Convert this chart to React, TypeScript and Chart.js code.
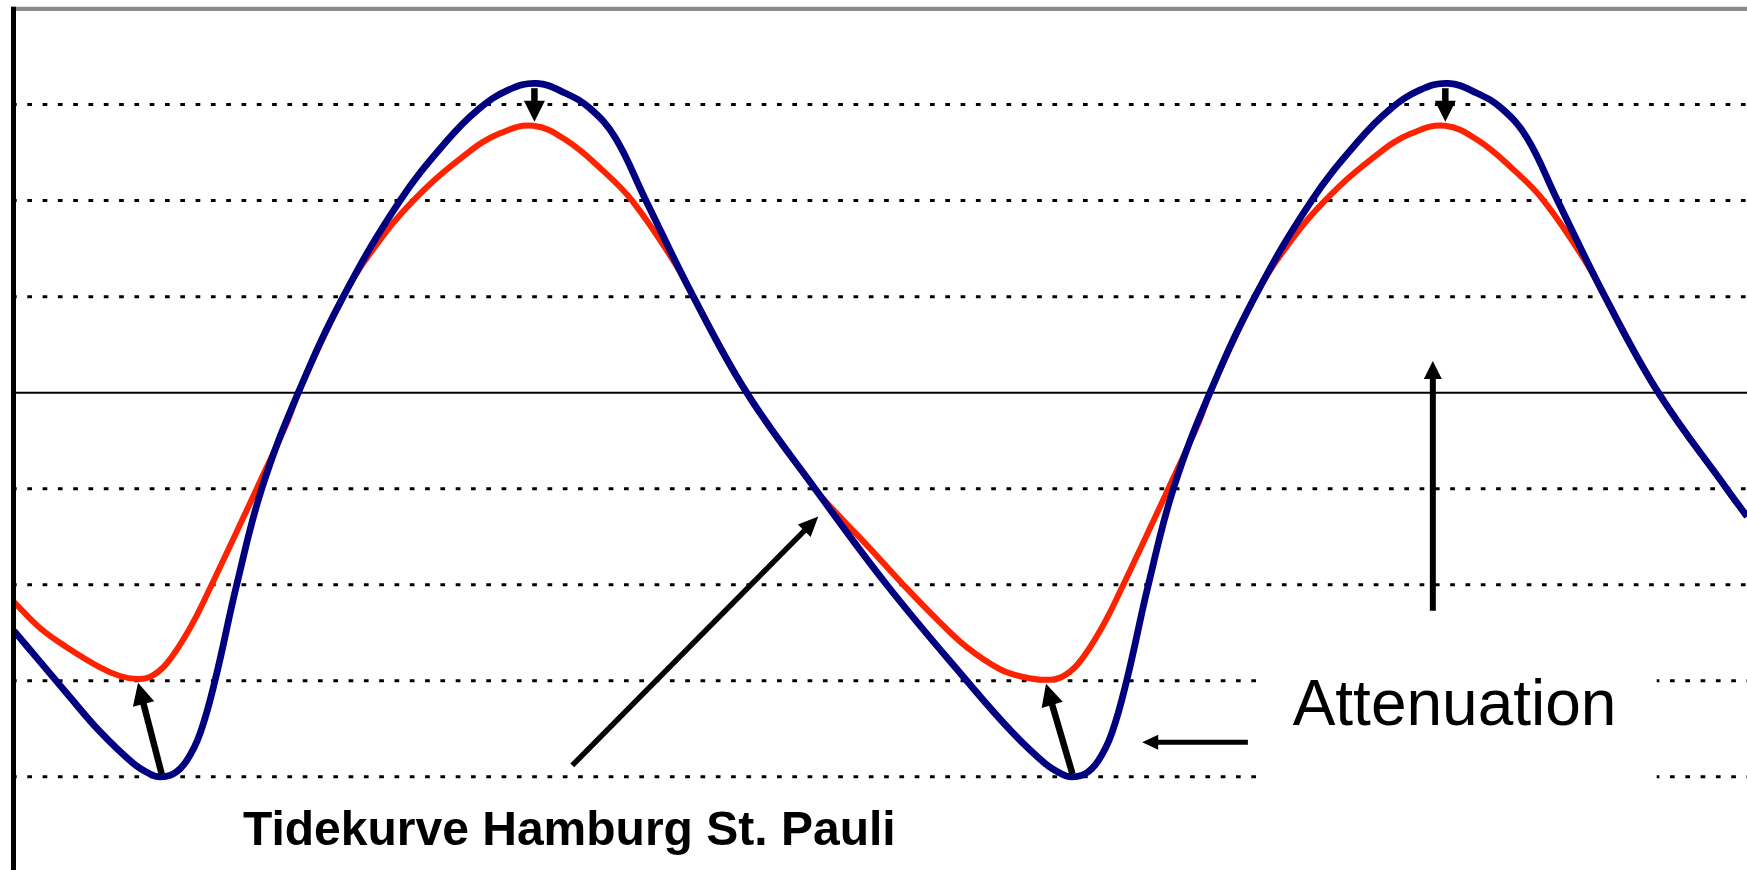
import React, { useEffect, useRef } from 'react';
import { Chart, registerables } from 'chart.js';

Chart.register(...registerables);

// Time axis in hours, water level in grid units (one dotted line per unit)
const hoursBlue = [0, 0.354, 0.718, 1.172, 1.625, 1.853, 1.989, 2.17, 2.353, 2.534, 2.738, 3.034, 3.375, 3.873, 4.486, 5.259, 5.895, 6.326, 6.73, 7.121, 7.507, 7.847, 8.188, 8.597, 9.255, 9.982, 10.913, 11.89, 12.98, 13.592, 14.045, 14.273, 14.409, 14.59, 14.773, 14.954, 15.158, 15.454, 15.795, 16.293, 16.906, 17.679, 18.315, 18.746, 19.15, 19.541, 19.927, 20.267, 20.608, 21.017, 21.675, 22.402, 23.333, 23.61];
const levelBlue = [-2.48, -2.8, -3.13, -3.53, -3.86, -3.97, -4.0, -3.97, -3.83, -3.55, -3.0, -2.0, -1.0, 0, 1.0, 2.0, 2.62, 2.95, 3.15, 3.22, 3.12, 2.96, 2.66, 2.02, 1.0, 0, -1.0, -2.0, -3.0, -3.53, -3.86, -3.97, -4.0, -3.97, -3.83, -3.55, -3.0, -2.0, -1.0, 0, 1.0, 2.0, 2.62, 2.95, 3.15, 3.22, 3.12, 2.96, 2.66, 2.02, 1.0, 0, -1.0, -1.29];

const hoursRed = [0, 0.354, 0.718, 1.172, 1.444, 1.672, 1.853, 2.08, 2.398, 2.693, 3.307, 3.715, 3.873, 4.486, 4.85, 5.44, 6.168, 6.621, 7.075, 7.52, 8.011, 8.42, 8.978, 9.255, 9.982, 10.913, 11.162, 11.635, 12.116, 12.56, 12.98, 13.433, 13.75, 14.06, 14.273, 14.5, 14.818, 15.113, 15.727, 16.135, 16.293, 16.906, 17.27, 17.86, 18.588, 19.041, 19.495, 19.94, 20.431, 20.84, 21.398, 21.675, 22.402, 23.333, 23.61];
const levelRed = [-2.18, -2.45, -2.65, -2.86, -2.95, -2.98, -2.96, -2.82, -2.45, -2.0, -1.0, -0.32, 0, 1.0, 1.45, 2.0, 2.49, 2.7, 2.78, 2.63, 2.32, 2.0, 1.38, 1.0, 0, -1.0, -1.22, -1.6, -2.0, -2.35, -2.65, -2.88, -2.96, -2.99, -2.96, -2.82, -2.45, -2.0, -1.0, -0.32, 0, 1.0, 1.45, 2.0, 2.49, 2.7, 2.78, 2.63, 2.32, 2.0, 1.38, 1.0, 0, -1.0, -1.29];

const gridLevels = [3, 2, 1, -1, -2, -3, -4];
const zeroLevel = 0;
const gappedLevels = [-3, -4];
const gapHours = [17.04, 22.38];

const arrowFromHour = [7.09, 19.5, 2.012, 14.42, 7.606, 19.33, 16.81];
const arrowFromLevel = [3.17, 3.17, -3.97, -3.97, -3.88, -2.27, -3.64];
const arrowToHour = [7.09, 19.5, 1.69, 14.06, 10.958, 19.33, 15.37];
const arrowToLevel = [2.82, 2.82, -3.02, -3.03, -1.29, 0.33, -3.64];

const labelTexts = ['Tidekurve Hamburg St. Pauli', 'Attenuation'];
const labelHour = [3.12, 17.42];
const labelLevel = [-4.71, -3.46];

// styles
const arrowShaft = [6.5, 6.5, 6.5, 6.5, 5.5, 6, 5];
const arrowHeadLen = [21, 21, 22, 22, 20, 18, 16];
const arrowHeadW = [21, 21, 22, 22, 18, 18, 15];
const labelFonts = ['bold 48px "Liberation Sans", Arial, sans-serif', '64px "Liberation Sans", Arial, sans-serif'];

function drawArrow(ctx: CanvasRenderingContext2D, x1: number, y1: number, x2: number, y2: number, sw: number, hl: number, hw: number) {
  const a = Math.atan2(y2 - y1, x2 - x1);
  const c = Math.cos(a), s = Math.sin(a);
  const bx = x2 - hl * c, by = y2 - hl * s;
  ctx.lineWidth = sw;
  ctx.lineCap = 'butt';
  ctx.beginPath();
  ctx.moveTo(x1, y1);
  ctx.lineTo(bx + c, by + s);
  ctx.stroke();
  ctx.beginPath();
  ctx.moveTo(x2, y2);
  ctx.lineTo(bx - (hw / 2) * s, by + (hw / 2) * c);
  ctx.lineTo(bx + (hw / 2) * s, by - (hw / 2) * c);
  ctx.closePath();
  ctx.fill();
}

const decorPlugin = {
  id: 'decor',
  beforeDatasetsDraw(chart: any) {
    const { ctx, chartArea } = chart;
    const xs = chart.scales.x, ys = chart.scales.y;
    ctx.save();
    ctx.strokeStyle = '#000';
    ctx.lineWidth = 3;
    ctx.setLineDash([4.7, 10.6]);
    ctx.lineDashOffset = 2;
    for (const lv of gridLevels) {
      const y = ys.getPixelForValue(lv);
      const segs: number[][] = gappedLevels.includes(lv)
        ? [[chartArea.left, xs.getPixelForValue(gapHours[0])], [xs.getPixelForValue(gapHours[1]), chartArea.right]]
        : [[chartArea.left, chartArea.right]];
      for (const [a, b] of segs) {
        ctx.beginPath();
        ctx.moveTo(a, y);
        ctx.lineTo(b, y);
        ctx.stroke();
      }
    }
    ctx.setLineDash([]);
    ctx.lineWidth = 2;
    const yz = ys.getPixelForValue(zeroLevel);
    ctx.beginPath();
    ctx.moveTo(chartArea.left, yz);
    ctx.lineTo(chartArea.right, yz);
    ctx.stroke();
    ctx.restore();
  },
  afterDatasetsDraw(chart: any) {
    const { ctx, chartArea } = chart;
    const xs = chart.scales.x, ys = chart.scales.y;
    ctx.save();
    ctx.fillStyle = '#000';
    ctx.strokeStyle = '#000';
    for (let i = 0; i < arrowFromHour.length; i++) {
      drawArrow(ctx,
        xs.getPixelForValue(arrowFromHour[i]), ys.getPixelForValue(arrowFromLevel[i]),
        xs.getPixelForValue(arrowToHour[i]), ys.getPixelForValue(arrowToLevel[i]),
        arrowShaft[i], arrowHeadLen[i], arrowHeadW[i]);
    }
    ctx.textBaseline = 'alphabetic';
    ctx.textAlign = 'left';
    for (let i = 0; i < labelTexts.length; i++) {
      ctx.font = labelFonts[i];
      ctx.fillText(labelTexts[i], xs.getPixelForValue(labelHour[i]), ys.getPixelForValue(labelLevel[i]));
    }
    // top frame line
    ctx.strokeStyle = '#8c8c8c';
    ctx.lineWidth = 4.3;
    ctx.beginPath();
    ctx.moveTo(chartArea.left - 3, chartArea.top + 0.3);
    ctx.lineTo(chartArea.right, chartArea.top + 0.3);
    ctx.stroke();
    // left axis
    ctx.strokeStyle = '#000';
    ctx.lineWidth = 5;
    ctx.beginPath();
    ctx.moveTo(chartArea.left - 0.5, chartArea.top - 1.8);
    ctx.lineTo(chartArea.left - 0.5, chartArea.bottom + 2);
    ctx.stroke();
    ctx.restore();
  },
};

export default function App() {
  const ref = useRef<HTMLCanvasElement | null>(null);
  useEffect(() => {
    document.body.style.margin = '0';
    if (!ref.current) return;
    const chart = new Chart(ref.current, {
      type: 'line',
      data: {
        datasets: [
          {
            label: 'Hamburg St. Pauli',
            data: hoursBlue.map((h, i) => ({ x: h, y: levelBlue[i] })),
            borderColor: '#000080',
            borderWidth: 6.8,
            pointRadius: 0,
            tension: 0.4,
            borderJoinStyle: 'round',
            fill: false,
          },
          {
            label: 'Attenuated',
            data: hoursRed.map((h, i) => ({ x: h, y: levelRed[i] })),
            borderColor: '#ff2200',
            borderWidth: 6,
            pointRadius: 0,
            tension: 0.4,
            borderJoinStyle: 'round',
            fill: false,
          },
        ],
      },
      options: {
        responsive: false,
        animation: false,
        devicePixelRatio: 1,
        layout: { padding: { left: 14, top: 8.5, right: 0, bottom: 0 } },
        plugins: { legend: { display: false }, tooltip: { enabled: false } },
        scales: {
          x: { type: 'linear', min: 0, max: 23.61, display: false },
          y: { type: 'linear', min: -4.97, max: 4, display: false },
        },
      },
      plugins: [decorPlugin],
    } as any);
    return () => chart.destroy();
  }, []);
  return (
    <div style={{ width: 1747, height: 870 }}>
      <canvas ref={ref} width={1747} height={870} style={{ display: 'block' }} />
    </div>
  );
}
